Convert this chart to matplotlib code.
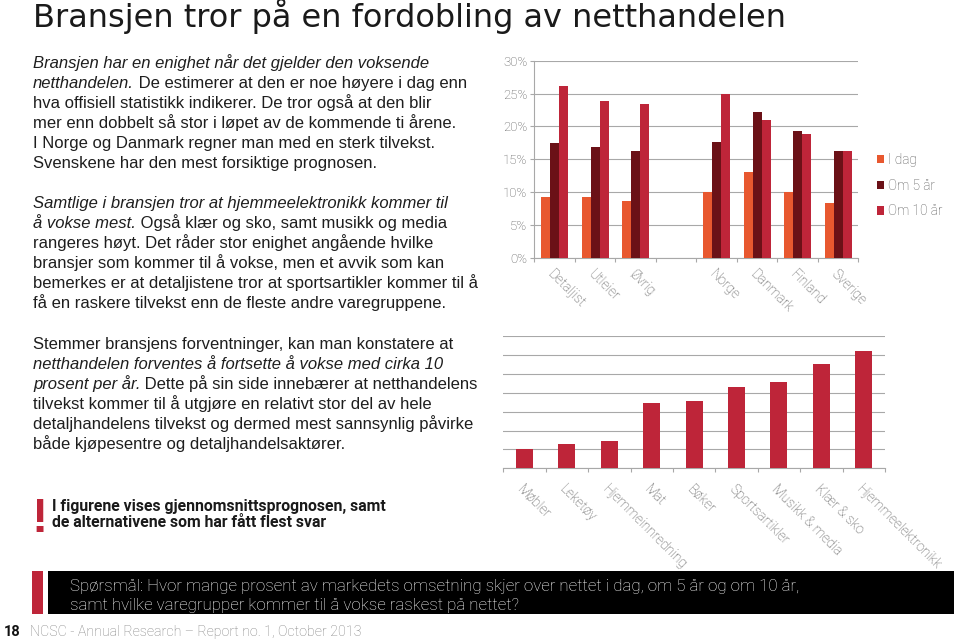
import numpy as np
import matplotlib.pyplot as plt
from matplotlib.patches import Rectangle

# ---- data ----
regions = ["Detaljist", "Utleier", "Øvrig", "", "Norge", "Danmark", "Finland", "Sverige"]
i_dag = [9.2, 9.3, 8.6, np.nan, 10.0, 13.0, 10.0, 8.3]
om_5_ar = [17.5, 16.9, 16.2, np.nan, 17.6, 22.2, 19.3, 16.2]
om_10_ar = [26.2, 23.8, 23.4, np.nan, 24.9, 21.0, 18.8, 16.3]
series_names = ["I dag", "Om 5 år", "Om 10 år"]

groups = ["Møbler", "Leketøy", "Hjemmeinnredning", "Mat", "Bøker",
          "Sportsartikler", "Musikk & media", "Klær & sko", "Hjemmeelektronikk"]
growth = [1.0, 1.27, 1.43, 3.46, 3.54, 4.30, 4.59, 5.54, 6.23]

# ---- colours / fonts ----
ORANGE = "#e8582f"
MAROON = "#6b1117"
CRIMSON = "#be2539"
GRID = "#a8a8a8"
LABEL = "#555555"
BODY = "Liberation Sans"
TECH = "Roboto"

W, H = 960, 639
fig = plt.figure(figsize=(W / 100, H / 100), dpi=100)

# background axes in pixel coordinates for all page text
bg = fig.add_axes([0, 0, 1, 1])
bg.set_xlim(0, W)
bg.set_ylim(H, 0)
bg.axis("off")


def px_axes(x0, x1, ytop, ybot):
    return fig.add_axes([x0 / W, (H - ybot) / H, (x1 - x0) / W, (ybot - ytop) / H])


def mixed_line(x, y, parts, size=12):
    # parts: list of (text, fontstyle); later parts are chained to the previous one
    prev = None
    for s, st in parts:
        if prev is None:
            prev = bg.text(x, y, s, fontstyle=st, family=BODY, fontsize=size,
                           color="#1e1e1e", va="baseline", ha="left")
        else:
            prev = bg.annotate(s, xy=(1, 0), xycoords=prev, fontstyle=st, family=BODY,
                               fontsize=size, color="#1e1e1e", va="bottom", ha="left")


# ---- title ----
bg.text(33, 27.5, "Bransjen tror på en fordobling av netthandelen", family="DejaVu Sans",
        fontsize=23, color="#1a1a1a", va="baseline", ha="left")

# ---- body text ----
I, N = "italic", "normal"
para1 = [
    [("Bransjen har en enighet når det gjelder den voksende", I)],
    [("netthandelen.", I), (" De estimerer at den er noe høyere i dag enn", N)],
    [("hva offisiell statistikk indikerer. De tror også at den blir", N)],
    [("mer enn dobbelt så stor i løpet av de kommende ti årene.", N)],
    [("I Norge og Danmark regner man med en sterk tilvekst.", N)],
    [("Svenskene har den mest forsiktige prognosen.", N)],
]
para2 = [
    [("Samtlige i bransjen tror at hjemmeelektronikk kommer til", I)],
    [("å vokse mest.", I), (" Også klær og sko, samt musikk og media", N)],
    [("rangeres høyt. Det råder stor enighet angående hvilke", N)],
    [("bransjer som kommer til å vokse, men et avvik som kan", N)],
    [("bemerkes er at detaljistene tror at sportsartikler kommer til å", N)],
    [("få en raskere tilvekst enn de fleste andre varegruppene.", N)],
]
para3 = [
    [("Stemmer bransjens forventninger, kan man konstatere at", N)],
    [("netthandelen forventes å fortsette å vokse med cirka 10", I)],
    [("prosent per år.", I), (" Dette på sin side innebærer at netthandelens", N)],
    [("tilvekst kommer til å utgjøre en relativt stor del av hele", N)],
    [("detaljhandelens tilvekst og dermed mest sannsynlig påvirke", N)],
    [("både kjøpesentre og detaljhandelsaktører.", N)],
]
for start, para in [(67.7, para1), (207.7, para2), (349.3, para3)]:
    for k, parts in enumerate(para):
        mixed_line(33, start + 20 * k, parts)

# ---- note with exclamation mark ----
bg.text(40, 532, "!", family="Liberation Sans", fontweight="bold", fontsize=35,
        color=CRIMSON, ha="center", va="baseline")
bg.text(52, 510.5, "I figurene vises gjennomsnittsprognosen, samt", family=TECH,
        fontweight="bold", fontsize=11.3, color="#1a1a1a", va="baseline")
bg.text(52, 527, "de alternativene som har fått flest svar", family=TECH,
        fontweight="bold", fontsize=11.3, color="#1a1a1a", va="baseline")

# ---- question box ----
bg.add_patch(Rectangle((31.7, 571), 11, 43.3, color=CRIMSON, lw=0))
bg.add_patch(Rectangle((48.3, 571), 905.7, 43.3, color="black", lw=0))
bg.text(70, 590.5, "Spørsmål: Hvor mange prosent av markedets omsetning skjer over nettet i dag, om 5 år og om 10 år,",
        family=TECH, fontweight="light", fontsize=12.2, color="white", va="baseline")
bg.text(70, 610, "samt hvilke varegrupper kommer til å vokse raskest på nettet?",
        family=TECH, fontweight="light", fontsize=12.2, color="white", va="baseline")

# ---- footer ----
bg.text(4, 636, "18", family=TECH, fontweight="bold", fontsize=10.5, color="#111111", va="baseline")
bg.text(30, 636, "NCSC - Annual Research – Report no. 1, October 2013", family=TECH,
        fontweight="light", fontsize=10.3, color="#808080", va="baseline")

# ---- top chart: grouped bars ----
ax1 = px_axes(534.3, 858.3, 60.7, 257.7)
x = np.arange(len(regions))
w = 0.222
for off, vals, col, name in [(-w, i_dag, ORANGE, series_names[0]),
                             (0, om_5_ar, MAROON, series_names[1]),
                             (w, om_10_ar, CRIMSON, series_names[2])]:
    ax1.bar(x + off, vals, width=w, color=col, label=name, zorder=3, linewidth=0)
ax1.set_xlim(-0.5, len(regions) - 0.5)
ax1.set_ylim(0, 30)
ax1.set_yticks(range(0, 31, 5))
ax1.set_yticklabels([f"{v}%" for v in range(0, 31, 5)], family=TECH,
                    fontweight="light", fontsize=9.5, color=LABEL)
ax1.set_xticks(x)
ax1.set_xticklabels(regions, rotation=-45, ha="left", va="top", rotation_mode="anchor",
                    family=TECH, fontweight="light", fontsize=9.8, color=LABEL)
ax1.set_xticks(np.arange(-0.5, len(regions)), minor=True)
ax1.tick_params(axis="x", which="major", length=0, pad=7)
ax1.tick_params(axis="x", which="minor", length=3, color=GRID, width=0.8)
ax1.tick_params(axis="y", length=3, color=GRID, width=0.8, pad=2)
ax1.grid(axis="y", color=GRID, linewidth=0.8, zorder=0)
for s in ["top", "right"]:
    ax1.spines[s].set_visible(False)
for s in ["left", "bottom"]:
    ax1.spines[s].set_color(GRID)
    ax1.spines[s].set_linewidth(0.8)
leg = ax1.legend(loc="center left", bbox_to_anchor=(1.057, 0.3655), frameon=False,
                 handlelength=0.55, handleheight=0.55, handletextpad=0.3,
                 labelspacing=0.85, borderpad=0, borderaxespad=0,
                 prop={"family": TECH, "weight": "light", "size": 9.8})
for t in leg.get_texts():
    t.set_color(LABEL)

# ---- bottom chart: expected growth by product group ----
ax2 = px_axes(503.3, 885, 336, 468.3)
x2 = np.arange(len(groups))
ax2.bar(x2, growth, width=0.4, color=CRIMSON, zorder=3, linewidth=0)
ax2.set_xlim(-0.5, len(groups) - 0.5)
ax2.set_ylim(0, 7)
ax2.set_yticks(range(0, 8))
ax2.set_yticklabels([])
ax2.tick_params(axis="y", length=0)
ax2.set_xticks(x2)
ax2.set_xticklabels(groups, rotation=-45, ha="left", va="top", rotation_mode="anchor",
                    family=TECH, fontweight="light", fontsize=9.8, color=LABEL)
ax2.set_xticks(np.arange(-0.5, len(groups)), minor=True)
ax2.tick_params(axis="x", which="major", length=0, pad=10)
ax2.tick_params(axis="x", which="minor", length=3, color=GRID, width=0.8)
ax2.grid(axis="y", color=GRID, linewidth=0.8, zorder=0)
for s in ["top", "right", "left"]:
    ax2.spines[s].set_visible(False)
ax2.spines["bottom"].set_color(GRID)
ax2.spines["bottom"].set_linewidth(0.8)

fig.savefig("out.png", dpi=100)
